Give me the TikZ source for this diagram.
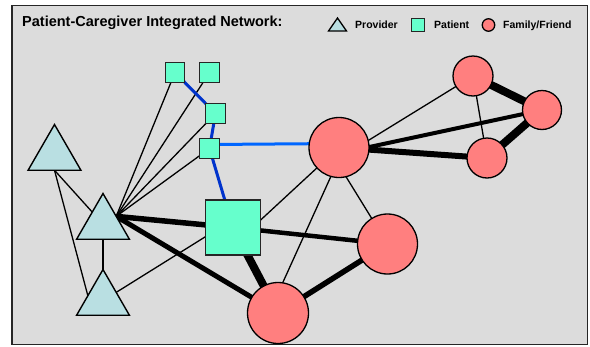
\documentclass[tikz,border=0pt]{standalone}
\usepackage{fontspec}
\setmainfont{Liberation Sans}
\usetikzlibrary{shapes.geometric,calc}
\definecolor{bggray}{HTML}{DCDCDC}
\definecolor{provfill}{HTML}{B9DFE2}
\definecolor{patfill}{HTML}{66FFCC}
\definecolor{famfill}{HTML}{FF7F7F}
\definecolor{darkblue}{HTML}{0033CC}
\definecolor{lightblue}{HTML}{0066FF}
\pgfdeclarelayer{bglayer}
\pgfdeclarelayer{edgelayer}
\pgfsetlayers{bglayer,edgelayer,main}
\begin{document}
\begin{tikzpicture}[x=1pt,y=-1pt,
  provider/.style={draw=black, line width=1.4pt, fill=provfill, regular polygon, regular polygon sides=3, minimum size=61pt, inner sep=0pt, outer sep=0pt},
  patient/.style={draw=black!85, line width=1.4pt, fill=patfill, rectangle, minimum size=#1, inner sep=0pt, outer sep=0pt},
  family/.style={draw=black, line width=1.3pt, fill=famfill, circle, minimum size=#1, inner sep=0pt, outer sep=0pt},
  tie/.style={draw=black, line width=#1},
  tie/.default=1.3pt,
  bluetie/.style={draw=darkblue, line width=3pt},
  lbluetie/.style={draw=lightblue, line width=3pt},
  titlefont/.style={font=\bfseries\fontsize{14.5}{16}\selectfont},
  legfont/.style={font=\bfseries\fontsize{10.5}{12}\selectfont}]
\useasboundingbox (0,0) rectangle (590,346);
\begin{pgfonlayer}{bglayer}
  \draw[line width=1.8pt, draw=black!85, fill=bggray] (12,5.5) rectangle (587.5,344.5);
\end{pgfonlayer}

% title and legend
\node[titlefont, anchor=base west, inner sep=0pt] (title) at (22,26) {Patient-Caregiver Integrated Network:};
\draw[fill=provfill, line width=1.3pt] (328.5,31) -- (337.5,18) -- (346.5,31) -- cycle;
\node[legfont, anchor=base west, inner sep=0pt] (lprov) at (355,28.5) {Provider};
\node[patient=12.5pt] (lpat) at (418,25) {};
\node[legfont, anchor=base west, inner sep=0pt] (lpatt) at (434,28.5) {Patient};
\node[family=12.5pt] (lfam) at (488.5,25) {};
\node[legfont, anchor=base west, inner sep=0pt] (lfamt) at (503,28.5) {Family/Friend};

% providers
\node[provider] (T1) at (54.5,155) {};
\node[provider] (T2) at (103,224) {};
\node[provider] (T3) at (103,300) {};
% patients
\node[patient=19.5pt] (S1) at (175,72.5) {};
\node[patient=19.5pt] (S2) at (209.5,72.5) {};
\node[patient=19.5pt] (S3) at (215.5,113.5) {};
\node[patient=19.5pt] (S4) at (209.5,148.5) {};
\node[patient=55pt] (Sq) at (233,227.5) {};
% family / friends
\node[family=60pt] (C1) at (339,147.5) {};
\node[family=60pt] (C2) at (387.5,244) {};
\node[family=61pt] (C3) at (278,313) {};
\node[family=40pt] (C4) at (473,76) {};
\node[family=39pt] (C5) at (542,110) {};
\node[family=40pt] (C6) at (487,158) {};

\begin{pgfonlayer}{edgelayer}
  % thin ties
  \draw[tie] (T1.side 2) -- (T2.center);
  \draw[tie] (T1.side 2) -- ([xshift=-14pt]T3.center);
  \draw[tie] (T2.center) -- (T3.center);
  \draw[tie] (T2.side 3) -- (S1.center);
  \draw[tie] (T2.side 3) -- (S2.center);
  \draw[tie] (T2.side 3) -- (S3.center);
  \draw[tie] (T2.side 3) -- (S4.center);
  \draw[tie] (T3.side 3) -- ([yshift=8pt]Sq.center);
  \draw[tie] (Sq.15) -- (C1.center);
  \draw[tie] ([xshift=-11pt]C1.center) -- (C2.center);
  \draw[tie] ([xshift=5pt]C1.center) -- ([xshift=-9pt]C3.center);
  \draw[tie] ([yshift=-11pt]C1.center) -- (C4.center);
  \draw[tie] (C4.center) -- (C6.center);
  % heavy ties
  \draw[tie=5.5pt] (T2.side 3) -- (Sq.center);
  \draw[tie=4.5pt] (Sq.center) -- (C2.center);
  \draw[tie=5pt] (T2.side 3) -- (C3.center);
  \draw[tie=8pt] (Sq.center) -- (C3.center);
  \draw[tie=5.5pt] (C2.center) -- (C3.center);
  \draw[tie=4pt] ([yshift=-6pt]C1.center) -- (C5.center);
  \draw[tie=6pt] (C1.center) -- (C6.center);
  \draw[tie=8pt] (C4.center) -- (C5.center);
  \draw[tie=8pt] (C5.center) -- (C6.center);
  % blue ties
  \draw[bluetie] (S1.center) -- (S3.center);
  \draw[bluetie] (S3.center) -- (S4.center);
  \draw[bluetie] (S4.center) -- (Sq.center);
  \draw[lbluetie] ([yshift=4pt]S4.center) -- ([yshift=4pt]C1.center);
\end{pgfonlayer}
\end{tikzpicture}
\end{document}
